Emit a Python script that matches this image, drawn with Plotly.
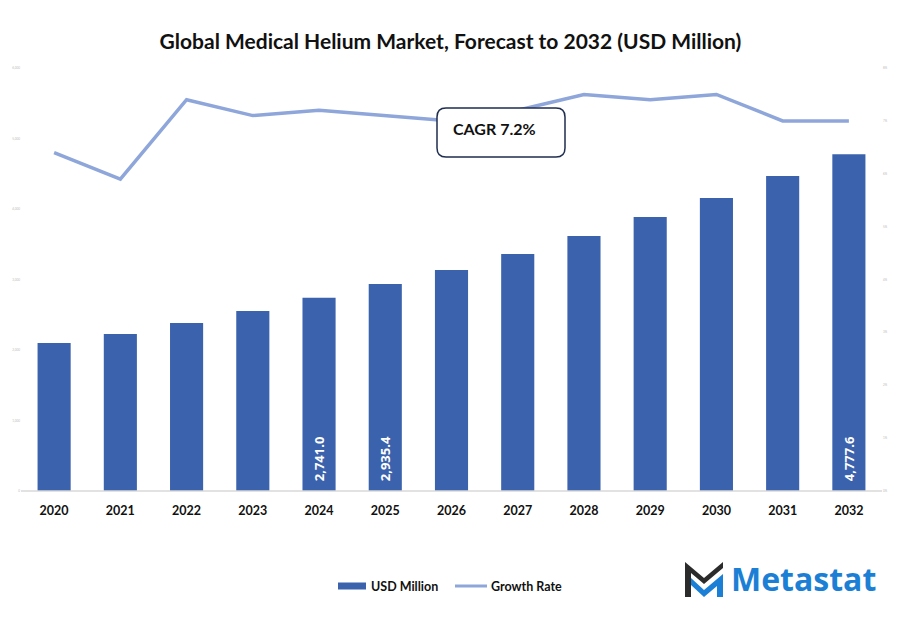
import plotly.graph_objects as go

years = ["2020", "2021", "2022", "2023", "2024", "2025", "2026",
         "2027", "2028", "2029", "2030", "2031", "2032"]
usd_million = [2099, 2227, 2383, 2553, 2741.0, 2935.4, 3135,
               3362, 3617, 3887, 4156, 4468, 4777.6]
growth_rate = [6.4, 5.9, 7.4, 7.1, 7.2, 7.1, 7.0, 7.2, 7.5, 7.4, 7.5, 7.0, 7.0]
bar_labels = ["", "", "", "", "2,741.0", "2,935.4", "", "", "", "", "", "", "4,777.6"]
left_ticks = [0, 1000, 2000, 3000, 4000, 5000, 6000]
left_tick_text = ["0", "1,000", "2,000", "3,000", "4,000", "5,000", "6,000"]
right_ticks = [0, 1, 2, 3, 4, 5, 6, 7, 8]
right_tick_text = ["0%", "1%", "2%", "3%", "4%", "5%", "6%", "7%", "8%"]

BAR = "#3b62ad"
LINE = "#8ea6da"
FONT = "Lato"

W, H = 901, 618
L, R, T, B = 21, 19, 68, 127
PW, PH = W - L - R, H - T - B


def px(x):
    return (x - L) / PW


def py(y):
    return (H - B - y) / PH


fig = go.Figure()
fig.add_trace(go.Bar(
    x=years, y=usd_million, name="USD Million", marker_color=BAR,
    marker_line_width=0,
    text=["\u00a0\u00a0<b>" + t + "</b>" if t else "" for t in bar_labels],
    textposition="inside", insidetextanchor="start",
    textangle=-90, textfont=dict(color="white", size=13, family="Open Sans", weight=700),
    cliponaxis=False, showlegend=False,
))
fig.add_trace(go.Scatter(
    x=years, y=growth_rate, name="Growth Rate", yaxis="y2", mode="lines",
    line=dict(color=LINE, width=3.5), showlegend=False,
))

shapes = []
# baseline
shapes.append(dict(type="line", xref="paper", yref="paper", x0=0, x1=1, y0=0, y1=0,
                   line=dict(color="#d9d9d9", width=1.5), layer="above"))


# CAGR rounded box
def rounded(x0, y0, x1, y1, r):
    return (f"M {px(x0 + r)},{py(y0)} L {px(x1 - r)},{py(y0)} "
            f"Q {px(x1)},{py(y0)} {px(x1)},{py(y0 + r)} "
            f"L {px(x1)},{py(y1 - r)} Q {px(x1)},{py(y1)} {px(x1 - r)},{py(y1)} "
            f"L {px(x0 + r)},{py(y1)} Q {px(x0)},{py(y1)} {px(x0)},{py(y1 - r)} "
            f"L {px(x0)},{py(y0 + r)} Q {px(x0)},{py(y0)} {px(x0 + r)},{py(y0)} Z")


shapes.append(dict(type="path", xref="paper", yref="paper",
                   path=rounded(437, 108, 565, 157, 9),
                   fillcolor="white", line=dict(color="#1f2d4f", width=1.5), layer="above"))

# legend swatches
shapes.append(dict(type="rect", xref="paper", yref="paper",
                   x0=px(338), x1=px(366), y0=py(589.5), y1=py(582.5),
                   fillcolor=BAR, line=dict(width=0)))
shapes.append(dict(type="line", xref="paper", yref="paper",
                   x0=px(455), x1=px(487), y0=py(586), y1=py(586),
                   line=dict(color=LINE, width=3)))

# logo icon
shapes.append(dict(type="path", xref="paper", yref="paper",
                   path=(f"M {px(685)},{py(597)} L {px(685)},{py(562)} L {px(704)},{py(578)} "
                         f"L {px(723)},{py(562)} L {px(723)},{py(568)} L {px(704)},{py(584)} "
                         f"L {px(691)},{py(573)} L {px(691)},{py(597)} Z"),
                   fillcolor="#2b2b2b", line=dict(width=0)))
shapes.append(dict(type="path", xref="paper", yref="paper",
                   path=(f"M {px(691)},{py(578)} L {px(704)},{py(590)} L {px(723)},{py(574)} "
                         f"L {px(723)},{py(597)} L {px(717)},{py(597)} L {px(717)},{py(586)} "
                         f"L {px(704)},{py(597)} L {px(691)},{py(585)} Z"),
                   fillcolor="#1c7fd6", line=dict(width=0)))

annotations = [
    dict(text="<b>CAGR 7.2%</b>", xref="paper", yref="paper", x=px(451), y=py(128),
         xanchor="left", yanchor="middle", showarrow=False,
         font=dict(size=16, color="#111111", family=FONT)),
    dict(text="<b>USD Million</b>", xref="paper", yref="paper", x=px(369), y=py(586),
         xanchor="left", yanchor="middle", showarrow=False,
         font=dict(size=12.5, color="#111111", family=FONT)),
    dict(text="<b>Growth Rate</b>", xref="paper", yref="paper", x=px(489), y=py(586),
         xanchor="left", yanchor="middle", showarrow=False,
         font=dict(size=12.5, color="#111111", family=FONT)),
    dict(text="<b>Metastat</b>", xref="paper", yref="paper", x=px(729), y=py(578),
         xanchor="left", yanchor="middle", showarrow=False,
         font=dict(size=32, color="#1c7fd6", family="Open Sans")),
]

fig.update_layout(
    width=W, height=H,
    margin=dict(l=L, r=R, t=T, b=B),
    paper_bgcolor="white", plot_bgcolor="white",
    title=dict(text="<b>Global Medical Helium Market, Forecast to 2032 (USD Million)</b>",
               x=0.5, xanchor="center", y=1 - 42 / H, yanchor="middle",
               font=dict(size=21, color="#111111", family=FONT)),
    bargap=0.5,
    showlegend=False,
    xaxis=dict(type="category", showgrid=False, showline=False, ticks="",
               ticklabelstandoff=10,
               tickfont=dict(size=12.5, color="#111111", family=FONT, weight="bold")),
    yaxis=dict(range=[0, 6000], tickvals=left_ticks, ticktext=left_tick_text,
               showgrid=False, zeroline=False, showline=False, ticks="",
               tickfont=dict(size=3, color="#bbbbbb", family=FONT)),
    yaxis2=dict(range=[0, 8], tickvals=right_ticks, ticktext=right_tick_text,
                overlaying="y", side="right", showgrid=False, zeroline=False,
                showline=False, ticks="",
                tickfont=dict(size=3, color="#bbbbbb", family=FONT)),
    shapes=shapes,
    annotations=annotations,
    font=dict(family=FONT),
)

fig.write_html("out.html")
